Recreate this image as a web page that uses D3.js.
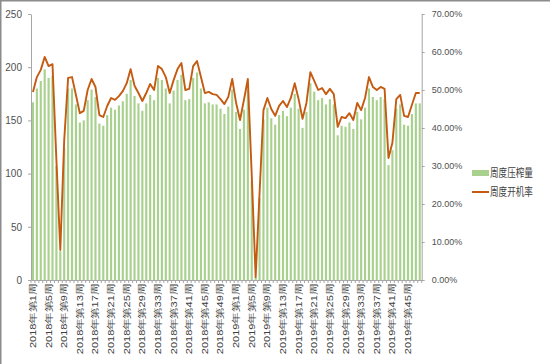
<!DOCTYPE html>
<html>
<head>
<meta charset="utf-8">
<script src="https://cdn.jsdelivr.net/npm/d3@7"></script>
<style>
  body { margin: 0; background: #fff; }
  svg { display: block; font-family: "Liberation Sans", "Noto Sans CJK SC", sans-serif; }
  .axis text { fill: #505050; }
  .axis path, .axis line { stroke: #a6a6a6; }
</style>
</head>
<body>
<svg></svg>
<script>
// week labels: 2018 weeks 1-52, 2019 weeks 1-48
const weeks = d3.range(1, 53).map(w => `2018年第${w}周`)
  .concat(d3.range(1, 49).map(w => `2019年第${w}周`))

// 周度压榨量 (万吨)
const crush = [
  167, 180, 187, 198, 190, 192, 107, 27, 124, 180,
  180, 165, 148, 150, 169, 179, 172, 147, 145, 155,
  162, 160, 164, 168, 175, 188, 173, 166, 159, 166,
  174, 169, 190, 188, 180, 166, 178, 188, 193, 169,
  170, 190, 195, 180, 166, 167, 165, 165, 161, 156,
  163, 179, 158, 142, 160, 179, 93, 3, 77, 151,
  162, 152, 146, 155, 159, 154, 162, 175, 161, 143,
  158, 185, 177, 169, 171, 165, 170, 165, 136, 145,
  144, 148, 142, 158, 151, 162, 180, 172, 169, 172,
  170, 108, 122, 161, 165, 146, 145, 156, 166, 166
]

// 周度开机率 (%)
const rate = [
  49.5, 53.4, 55.3, 58.7, 56.3, 56.8, 31.6, 7.9, 36.8, 53.2,
  53.4, 48.7, 43.9, 44.5, 50.0, 52.9, 50.8, 43.4, 42.9, 45.8,
  47.9, 47.4, 48.4, 49.7, 51.8, 55.5, 51.1, 49.2, 47.1, 49.2,
  51.6, 50.0, 56.3, 55.5, 53.4, 49.2, 52.6, 55.5, 57.1, 50.0,
  50.3, 56.3, 57.6, 53.4, 49.2, 49.5, 48.9, 48.7, 47.6, 46.3,
  48.2, 52.9, 46.6, 42.1, 47.4, 52.9, 27.6, 0.8, 22.9, 44.7,
  47.9, 45.0, 43.2, 45.8, 47.1, 45.5, 47.9, 51.8, 47.6, 42.4,
  46.6, 54.7, 52.4, 50.0, 50.5, 48.9, 50.3, 48.9, 40.3, 42.9,
  42.6, 43.9, 42.1, 46.6, 44.7, 47.9, 53.4, 50.8, 50.0, 50.8,
  50.3, 32.1, 36.1, 47.6, 48.7, 43.2, 42.9, 46.1, 49.2, 49.2
]

const leftTicks = [0, 50, 100, 150, 200, 250]
const rightTicks = [0, 0.1, 0.2, 0.3, 0.4, 0.5, 0.6, 0.7]
const seriesNames = ["周度压榨量", "周度开机率"]

const svg = d3.select("svg")
  .attr("width", 550)
  .attr("height", 364)

// outer frame (top and left edges visible)
svg.append("line")
  .attr("x1", 0).attr("x2", 550).attr("y1", 0.75).attr("y2", 0.75)
  .attr("stroke", "#8c8c8c").attr("stroke-width", 1.5)
svg.append("line")
  .attr("x1", 0.75).attr("x2", 0.75).attr("y1", 0).attr("y2", 364)
  .attr("stroke", "#8c8c8c").attr("stroke-width", 1.5)

const scaleX = d3.scaleBand()
  .domain(weeks)
  .range([31, 421.7])
  .paddingInner(0.45)
  .paddingOuter(0.225)

const scaleY = d3.scaleLinear()
  .domain([0, 250])
  .range([280, 14])

const scaleR = d3.scaleLinear()
  .domain([0, 0.7])
  .range([280, 14])

// bars
svg.append("g")
  .selectAll("rect")
  .data(crush)
  .enter()
  .append("rect")
  .attr("x", (d, i) => scaleX(weeks[i]))
  .attr("y", d => scaleY(d))
  .attr("width", scaleX.bandwidth())
  .attr("height", d => scaleY(0) - scaleY(d))
  .attr("fill", "#a9d18e")

// left axis
const axisL = svg.append("g")
  .attr("class", "axis")
  .attr("transform", "translate(31, 0)")
  .call(d3.axisLeft(scaleY).tickValues(leftTicks).tickSize(3).tickPadding(6).tickSizeOuter(0))
axisL.selectAll("text").style("font-size", "10px")

// right axis
const axisR = svg.append("g")
  .attr("class", "axis")
  .attr("transform", "translate(421.7, 0)")
  .call(d3.axisRight(scaleR).tickValues(rightTicks).tickSize(3).tickPadding(7)
    .tickSizeOuter(0).tickFormat(d3.format(".2%")))
axisR.selectAll("text").style("font-size", "9px")

// bottom axis: labels every 4th week, ticks at category boundaries
const axisB = svg.append("g")
  .attr("class", "axis")
  .attr("transform", "translate(0, 280)")
  .call(d3.axisBottom(scaleX).tickValues(weeks.filter((d, i) => i % 4 === 0))
    .tickSize(0).tickSizeOuter(0))

axisB.selectAll("text")
  .attr("x", 0)
  .attr("y", 0)
  .attr("dy", "0.35em")
  .attr("text-anchor", "end")
  .attr("transform", "translate(0, 4) rotate(-90) scale(1, 0.78)")
  .style("font-size", "11px")
  .style("fill", "#404040")

const step = scaleX.step()
axisB.selectAll("line.bound")
  .data(d3.range(weeks.length + 1))
  .enter()
  .append("line")
  .attr("class", "bound")
  .attr("x1", i => 31 + i * step)
  .attr("x2", i => 31 + i * step)
  .attr("y1", 0)
  .attr("y2", 3)

// line
const line = d3.line()
  .x((d, i) => scaleX(weeks[i]) + scaleX.bandwidth() / 2)
  .y(d => scaleR(d / 100))

svg.append("path")
  .datum(rate)
  .attr("d", line)
  .attr("fill", "none")
  .attr("stroke", "#c55a11")
  .attr("stroke-width", 1.9)
  .attr("stroke-linejoin", "round")

// legend
const legend = svg.append("g")
  .attr("transform", "translate(472, 0)")

legend.append("rect")
  .attr("x", 0).attr("y", 170)
  .attr("width", 17).attr("height", 6)
  .attr("fill", "#a9d18e")

legend.append("line")
  .attr("x1", 0).attr("x2", 17)
  .attr("y1", 192).attr("y2", 192)
  .attr("stroke", "#c55a11")
  .attr("stroke-width", 2)

legend.selectAll("text")
  .data(seriesNames)
  .enter()
  .append("text")
  .attr("transform", (d, i) => `translate(18, ${173 + i * 19}) scale(0.78, 1)`)
  .attr("dy", "0.35em")
  .style("font-size", "11px")
  .style("fill", "#404040")
  .text(d => d)
</script>
</body>
</html>
